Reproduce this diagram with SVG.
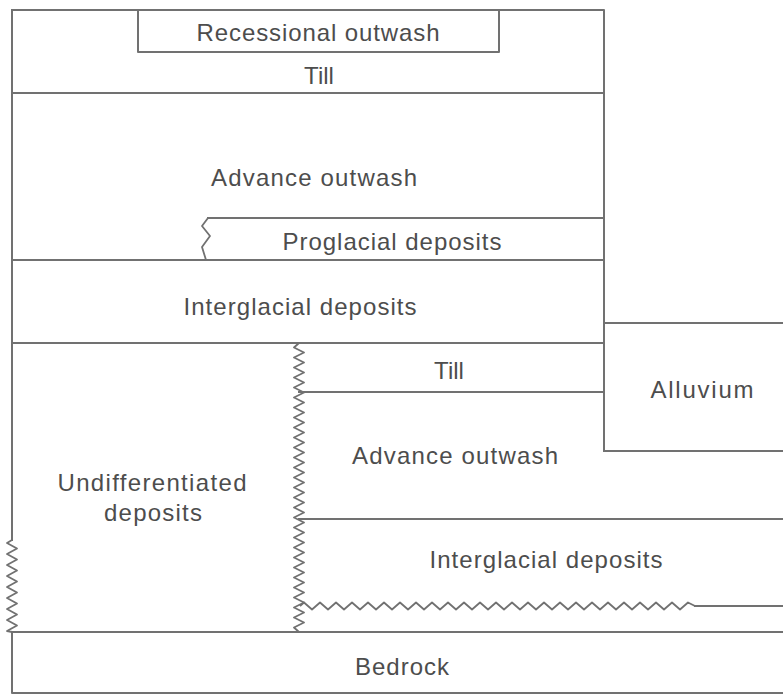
<svg xmlns="http://www.w3.org/2000/svg" width="783" height="695" viewBox="0 0 783 695">
<style>
.ln{fill:none;stroke:#717171;stroke-width:2;stroke-linejoin:round;stroke-linecap:square}
.zz{fill:none;stroke:#717171;stroke-width:1.8;stroke-linejoin:round}
.t{font-family:"Liberation Sans",Arial,sans-serif;font-size:24px;fill:#4d4d4d;text-anchor:middle}
</style>
<rect width="783" height="695" fill="#fff"/>
<g id="boundaries">
<path class="ln" d="M12,10 H604 V451 M138,10 V52 H499 V10 M12,93 H604 M208,218 H604 M12,260 H604 M12,343 H604 M604,323 H783 M299,392 H604 M604,451 H783 M299,519 H783 M695,606 H783 M12,632 H783 M12,10 V540 M12,632 V693 H783"/>
<path class="zz" d="M208,218 L202,226 L210,236 L202,247 L206,260"/>
<path class="zz" d="M299,343 l-5,4.5
l10,5 l-10,5 l10,5 l-10,5 l10,5 l-10,5 l10,5 l-10,5
l10,5 l-10,5 l10,5 l-10,5 l10,5 l-10,5 l10,5 l-10,5
l10,5 l-10,5 l10,5 l-10,5 l10,5 l-10,5 l10,5 l-10,5
l10,5 l-10,5 l10,5 l-10,5 l10,5 l-10,5 l10,5 l-10,5
l10,5 l-10,5 l10,5 l-10,5 l10,5 l-10,5 l10,5 l-10,5
l10,5 l-10,5 l10,5 l-10,5 l10,5 l-10,5 l10,5 l-10,5
l10,5 l-10,5 l10,5 l-10,5 l10,5 l-10,5 l10,5 l-10,5
l5,4.5"/>
<path class="zz" d="M12,540 l-5,3
l10,5.5 l-10,5.5 l10,5.5 l-10,5.5 l10,5.5 l-10,5.5 l10,5.5 l-10,5.5
l10,5.5 l-10,5.5 l10,5.5 l-10,5.5 l10,5.5 l-10,5.5 l10,5.5 l-10,5.5
l5,1"/>
<path class="zz" d="M300,606 l4,-3.5
l8,7 l8,-7 l8,7 l8,-7 l8,7 l8,-7 l8,7 l8,-7
l8,7 l8,-7 l8,7 l8,-7 l8,7 l8,-7 l8,7 l8,-7
l8,7 l8,-7 l8,7 l8,-7 l8,7 l8,-7 l8,7 l8,-7
l8,7 l8,-7 l8,7 l8,-7 l8,7 l8,-7 l8,7 l8,-7
l8,7 l8,-7 l8,7 l8,-7 l8,7 l8,-7 l8,7 l8,-7
l8,7 l8,-7 l8,7 l8,-7 l8,7 l8,-7 l8,7 l8,-7
l7,3.5"/>
</g>
<g id="recessional-outwash"><text class="t" x="318" y="41" textLength="243" lengthAdjust="spacing">Recessional outwash</text></g>
<g id="till-upper"><text class="t" x="319" y="84">Till</text></g>
<g id="advance-outwash-upper"><text class="t" x="314" y="186" textLength="206" lengthAdjust="spacing">Advance outwash</text></g>
<g id="proglacial-deposits"><text class="t" x="392" y="250" textLength="219" lengthAdjust="spacing">Proglacial deposits</text></g>
<g id="interglacial-deposits-upper"><text class="t" x="300" y="315" textLength="233" lengthAdjust="spacing">Interglacial deposits</text></g>
<g id="till-lower"><text class="t" x="449" y="379">Till</text></g>
<g id="alluvium"><text class="t" x="702" y="398" textLength="103" lengthAdjust="spacing">Alluvium</text></g>
<g id="advance-outwash-lower"><text class="t" x="455" y="464" textLength="206" lengthAdjust="spacing">Advance outwash</text></g>
<g id="undifferentiated-deposits"><text class="t" x="152" y="491" textLength="189" lengthAdjust="spacing">Undifferentiated</text><text class="t" x="153" y="521" textLength="98" lengthAdjust="spacing">deposits</text></g>
<g id="interglacial-deposits-lower"><text class="t" x="546" y="568" textLength="233" lengthAdjust="spacing">Interglacial deposits</text></g>
<g id="bedrock"><text class="t" x="402" y="675" textLength="94" lengthAdjust="spacing">Bedrock</text></g>
</svg>
